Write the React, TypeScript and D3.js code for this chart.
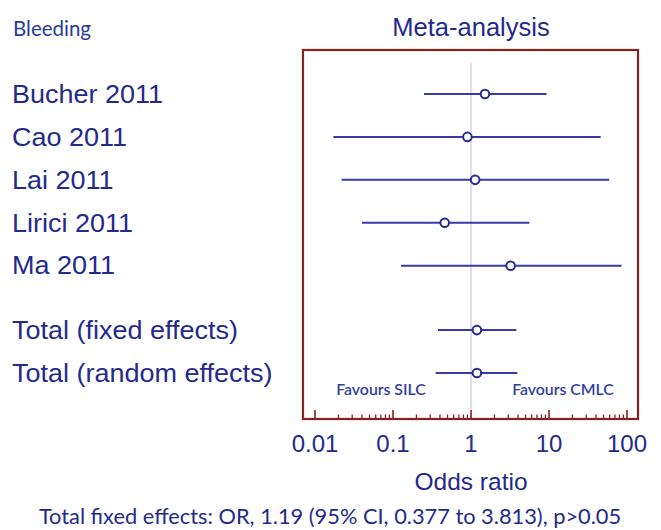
import React from "react";
import * as d3 from "d3";

const studies = ["Bucher 2011", "Cao 2011", "Lai 2011", "Lirici 2011", "Ma 2011", "Total (fixed effects)", "Total (random effects)"];
const rowIndex = [0, 1, 2, 3, 4, 5.5, 6.5];
const oddsRatio = [1.51, 0.9, 1.13, 0.46, 3.22, 1.19, 1.19];
const ciLow = [0.25, 0.0172, 0.022, 0.04, 0.127, 0.377, 0.352];
const ciHigh = [9.3, 46, 59, 5.6, 85, 3.813, 3.93];
const decades = [0.01, 0.1, 1, 10, 100];

const navy = "#242a8c";
const lineBlue = "#3a3aa6";

const App = () => {
  const width = 661, height = 530;
  const box = { left: 303, right: 638, top: 50, bottom: 419 };

  const x = d3.scaleLog().domain([0.01, 100]).range([315, 627]);
  const y = d3.scaleLinear().domain([0, 6.5]).range([94, 373]);

  // minor ticks 2..9 within each decade
  const minor: number[] = [];
  decades.slice(0, -1).forEach(d => d3.range(2, 10).forEach(k => minor.push(d * k)));

  return (
    <svg width={width} height={height} style={{ position: "absolute", left: 0, top: 0 }}>
      <text x={13} y={36} fontFamily="Lato, 'Open Sans', sans-serif" fontSize={20.5} fill="#2b3a9e">Bleeding</text>
      <text x={471} y={36} textAnchor="middle" fontFamily="'Liberation Sans', Arial, sans-serif" fontSize={25.5} fill={navy}>Meta-analysis</text>

      {/* reference line at OR = 1 */}
      <line x1={x(1)} x2={x(1)} y1={63} y2={box.bottom} stroke="#c9c9e6" strokeWidth={1.2} />

      {studies.map((s, i) => (
        <g key={s}>
          <text transform={`translate(12,${y(rowIndex[i]) + 8.8}) scale(1.08,1)`} fontFamily="'Liberation Sans', Arial, sans-serif" fontSize={25} fill={navy}>{s}</text>
          <line x1={x(ciLow[i])} x2={x(ciHigh[i])} y1={y(rowIndex[i])} y2={y(rowIndex[i])} stroke={lineBlue} strokeWidth={2} />
          <circle cx={x(oddsRatio[i])} cy={y(rowIndex[i])} r={4.3} fill="#fff" stroke={"#2a2a90"} strokeWidth={2} />
        </g>
      ))}

      <text x={381} y={395} textAnchor="middle" fontFamily="Lato, 'Open Sans', sans-serif" fontSize={15.8} fontWeight={600} fill="#3340a2">Favours SILC</text>
      <text x={563} y={395} textAnchor="middle" fontFamily="Lato, 'Open Sans', sans-serif" fontSize={15.8} fontWeight={600} fill="#3340a2">Favours CMLC</text>

      {/* ticks */}
      {decades.map(d => (
        <line key={"M" + d} x1={x(d)} x2={x(d)} y1={box.bottom - 9} y2={box.bottom} stroke="#8b1e1e" strokeWidth={1.6} />
      ))}
      {minor.map(d => (
        <line key={"m" + d} x1={x(d)} x2={x(d)} y1={box.bottom - 4.5} y2={box.bottom} stroke="#8b1e1e" strokeWidth={1.3} />
      ))}

      <rect x={box.left} y={box.top} width={box.right - box.left} height={box.bottom - box.top} fill="none" stroke="#8b1e1e" strokeWidth={2.2} />

      {decades.map(d => (
        <text key={"t" + d} x={x(d)} y={452} textAnchor="middle" fontFamily="'Liberation Sans', Arial, sans-serif" fontSize={24} fill={navy}>{String(d)}</text>
      ))}
      <text x={471} y={490} textAnchor="middle" fontFamily="'Liberation Sans', Arial, sans-serif" fontSize={24.5} fill={navy}>Odds ratio</text>

      <text x={330} y={524} textAnchor="middle" fontFamily="Lato, 'Open Sans', sans-serif" fontSize={21.8} fill={navy}>Total fixed effects: OR, 1.19 (95% CI, 0.377 to 3.813), p&gt;0.05</text>
    </svg>
  );
};

export default App;
